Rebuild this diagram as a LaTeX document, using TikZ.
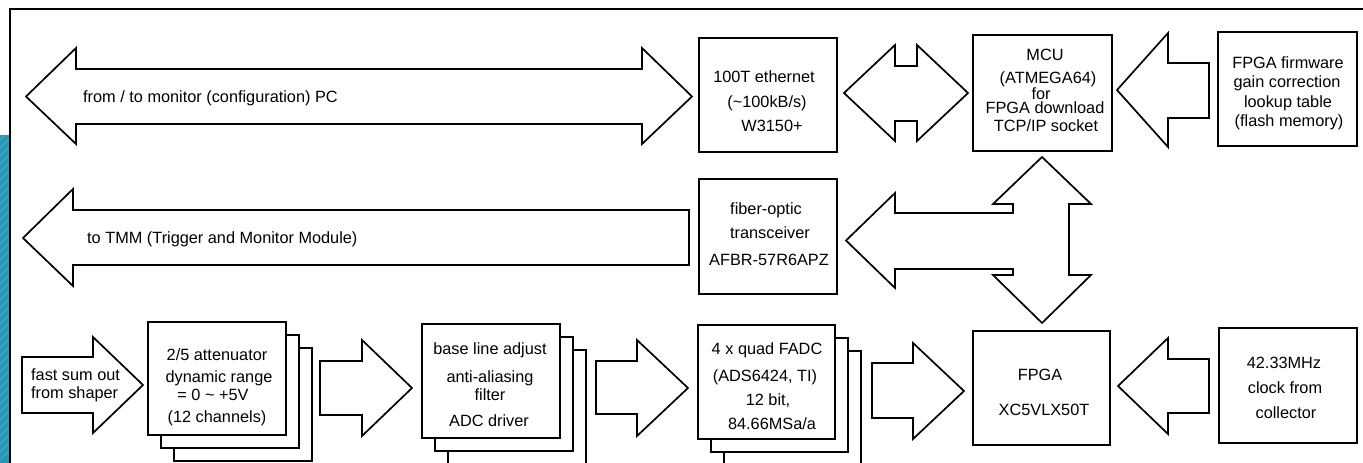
\documentclass[tikz,border=0pt]{standalone}
\usepackage{fontspec}
\setmainfont{Liberation Sans}
\definecolor{sideblue}{RGB}{40,150,185}
\definecolor{sidestripe}{RGB}{70,170,200}
\begin{document}
\begin{tikzpicture}[x=1pt,y=-1pt,
  box/.style={draw,line width=1.7pt,fill=white,inner sep=0pt},
  barrow/.style={draw,line width=1.7pt,fill=white,line join=miter},
  txt/.style={font=\fontsize{16.3}{19}\selectfont,inner sep=0pt,anchor=base},
  txtw/.style={txt,anchor=base west}]
\useasboundingbox (0,0) rectangle (1363,463);
% side decoration
\begin{scope}
\clip (0,135) rectangle (10,463);
\fill[sideblue] (0,135) rectangle (10,463);
\foreach \k in {0,...,40} {\draw[sidestripe,line width=0.8pt] (0,140+8*\k) -- (12,128+8*\k);}
\end{scope}
\draw[line width=1.7pt] (10,463) -- (10,9) -- (1363,9);

% ---- row 1
\draw[barrow] (26,96.5) -- (76,48) -- (76,69) -- (642,69) -- (642,48) -- (692,96.5) -- (642,144) -- (642,124) -- (76,124) -- (76,144) -- cycle;
\node[txtw] (pc) at (83,102.5) {from / to monitor (configuration) PC};

\node[box,minimum width=138pt,minimum height=114pt] (eth) at (768,95) {};
\node[txt] (eth1) at (764,82.5) {100T ethernet};
\node[txt] (eth2) at (767,107.5) {(\textasciitilde100kB/s)};
\node[txt] (eth3) at (772,131.5) {W3150+};

\draw[barrow] (844,93) -- (895,45) -- (895,66) -- (917,66) -- (917,45) -- (968,93) -- (917,141) -- (917,121) -- (895,121) -- (895,141) -- cycle;

\node[box,minimum width=139pt,minimum height=116pt] (mcu) at (1042.5,93) {};
\node[txt] (mcu1) at (1045,60.5) {MCU};
\node[txt] (mcu2) at (1048,83.5) {(ATMEGA64)};
\node[txt] (mcu3) at (1041,99.5) {for};
\node[txt] (mcu4) at (1045,113) {FPGA download};
\node[txt] (mcu5) at (1046,131) {TCP/IP socket};

\draw[barrow] (1117,90) -- (1168,33) -- (1168,63) -- (1209,63) -- (1209,118) -- (1168,118) -- (1168,147) -- cycle;

\node[box,minimum width=139pt,minimum height=114pt] (fw) at (1287.5,89) {};
\node[txt] (fw1) at (1288,68.5) {FPGA firmware};
\node[txt] (fw2) at (1287,87.5) {gain correction};
\node[txt] (fw3) at (1288,107.5) {lookup table};
\node[txt] (fw4) at (1289,126.5) {(flash memory)};

% ---- row 2
\draw[barrow] (23,238) -- (73,189) -- (73,210) -- (689,210) -- (689,265) -- (73,265) -- (73,286) -- cycle;
\node[txtw] (tmm) at (87,243.5) {to TMM (Trigger and Monitor Module)};

\node[box,minimum width=138pt,minimum height=115pt] (fib) at (768,236.5) {};
\node[txt] (fib1) at (766,214.5) {fiber-optic};
\node[txt] (fib2) at (770,238.5) {transceiver};
\node[txt] (fib3) at (769,265.5) {AFBR-57R6APZ};

\draw[barrow] (1042,157) -- (1091,204) -- (1069,204) -- (1069,275) -- (1091,275) -- (1042,323)
  -- (993,275) -- (1013,275) -- (1013,269) -- (895,269) -- (895,288) -- (846,240.5) -- (895,193)
  -- (895,213) -- (1013,213) -- (1013,204) -- (993,204) -- cycle;

% ---- row 3
\draw[barrow] (22,357) -- (93,357) -- (93,337) -- (143,385) -- (93,433) -- (93,413) -- (22,413) -- cycle;
\node[txtw] (in1) at (31,380.5) {fast sum out};
\node[txtw] (in2) at (31,398.5) {from shaper};

\node[box,minimum width=138pt,minimum height=113pt] (att3) at (243,404.5) {};
\node[box,minimum width=138pt,minimum height=113pt] (att2) at (230,391.5) {};
\node[box,minimum width=138pt,minimum height=113pt] (att) at (217,378.5) {};
\node[txt] (att1t) at (217,360.5) {2/5 attenuator};
\node[txt] (att2t) at (219,382.5) {dynamic range};
\node[txt] (att3t) at (213,400.5) {= 0 \textasciitilde{} +5V};
\node[txt] (att4t) at (217,422.5) {(12 channels)};

\draw[barrow] (320,361) -- (362,361) -- (362,340) -- (412,388) -- (362,436) -- (362,415) -- (320,415) -- cycle;

\node[box,minimum width=138pt,minimum height=114pt] (bas3) at (517,407) {};
\node[box,minimum width=138pt,minimum height=114pt] (bas2) at (504,394) {};
\node[box,minimum width=138pt,minimum height=114pt] (bas) at (491,381) {};
\node[txt] (bas1t) at (490,354.5) {base line adjust};
\node[txt] (bas2t) at (490,382.5) {anti-aliasing};
\node[txt] (bas3t) at (490,400.5) {filter};
\node[txt] (bas4t) at (489,426.5) {ADC driver};

\draw[barrow] (596,361) -- (637,361) -- (637,340) -- (688,388) -- (637,436) -- (637,414) -- (596,414) -- cycle;

\node[box,minimum width=137pt,minimum height=114pt] (adc3) at (792.5,408) {};
\node[box,minimum width=137pt,minimum height=114pt] (adc2) at (779.5,395) {};
\node[box,minimum width=137pt,minimum height=114pt] (adc) at (766.5,382) {};
\node[txt] (adc1t) at (767,354.5) {4 x quad FADC};
\node[txt] (adc2t) at (765,381.5) {(ADS6424, TI)};
\node[txt] (adc3t) at (768,405.5) {12 bit,};
\node[txt] (adc4t) at (772,429.5) {84.66MSa/a};

\draw[barrow] (872,363) -- (913,363) -- (913,343) -- (964,391) -- (913,439) -- (913,418) -- (872,418) -- cycle;

\node[box,minimum width=137pt,minimum height=114pt] (fpga) at (1041.5,388) {};
\node[txt] (fpga1) at (1040,380.5) {FPGA};
\node[txt] (fpga2) at (1044,415.5) {XC5VLX50T};

\draw[barrow] (1118,386) -- (1168,338) -- (1168,359) -- (1209,359) -- (1209,413) -- (1168,413) -- (1168,434) -- cycle;

\node[box,minimum width=138pt,minimum height=115pt] (clk) at (1288,385.5) {};
\node[txt] (clk1) at (1284,368.5) {42.33MHz};
\node[txt] (clk2) at (1285,393.5) {clock from};
\node[txt] (clk3) at (1286,418.5) {collector};
\end{tikzpicture}
\end{document}
